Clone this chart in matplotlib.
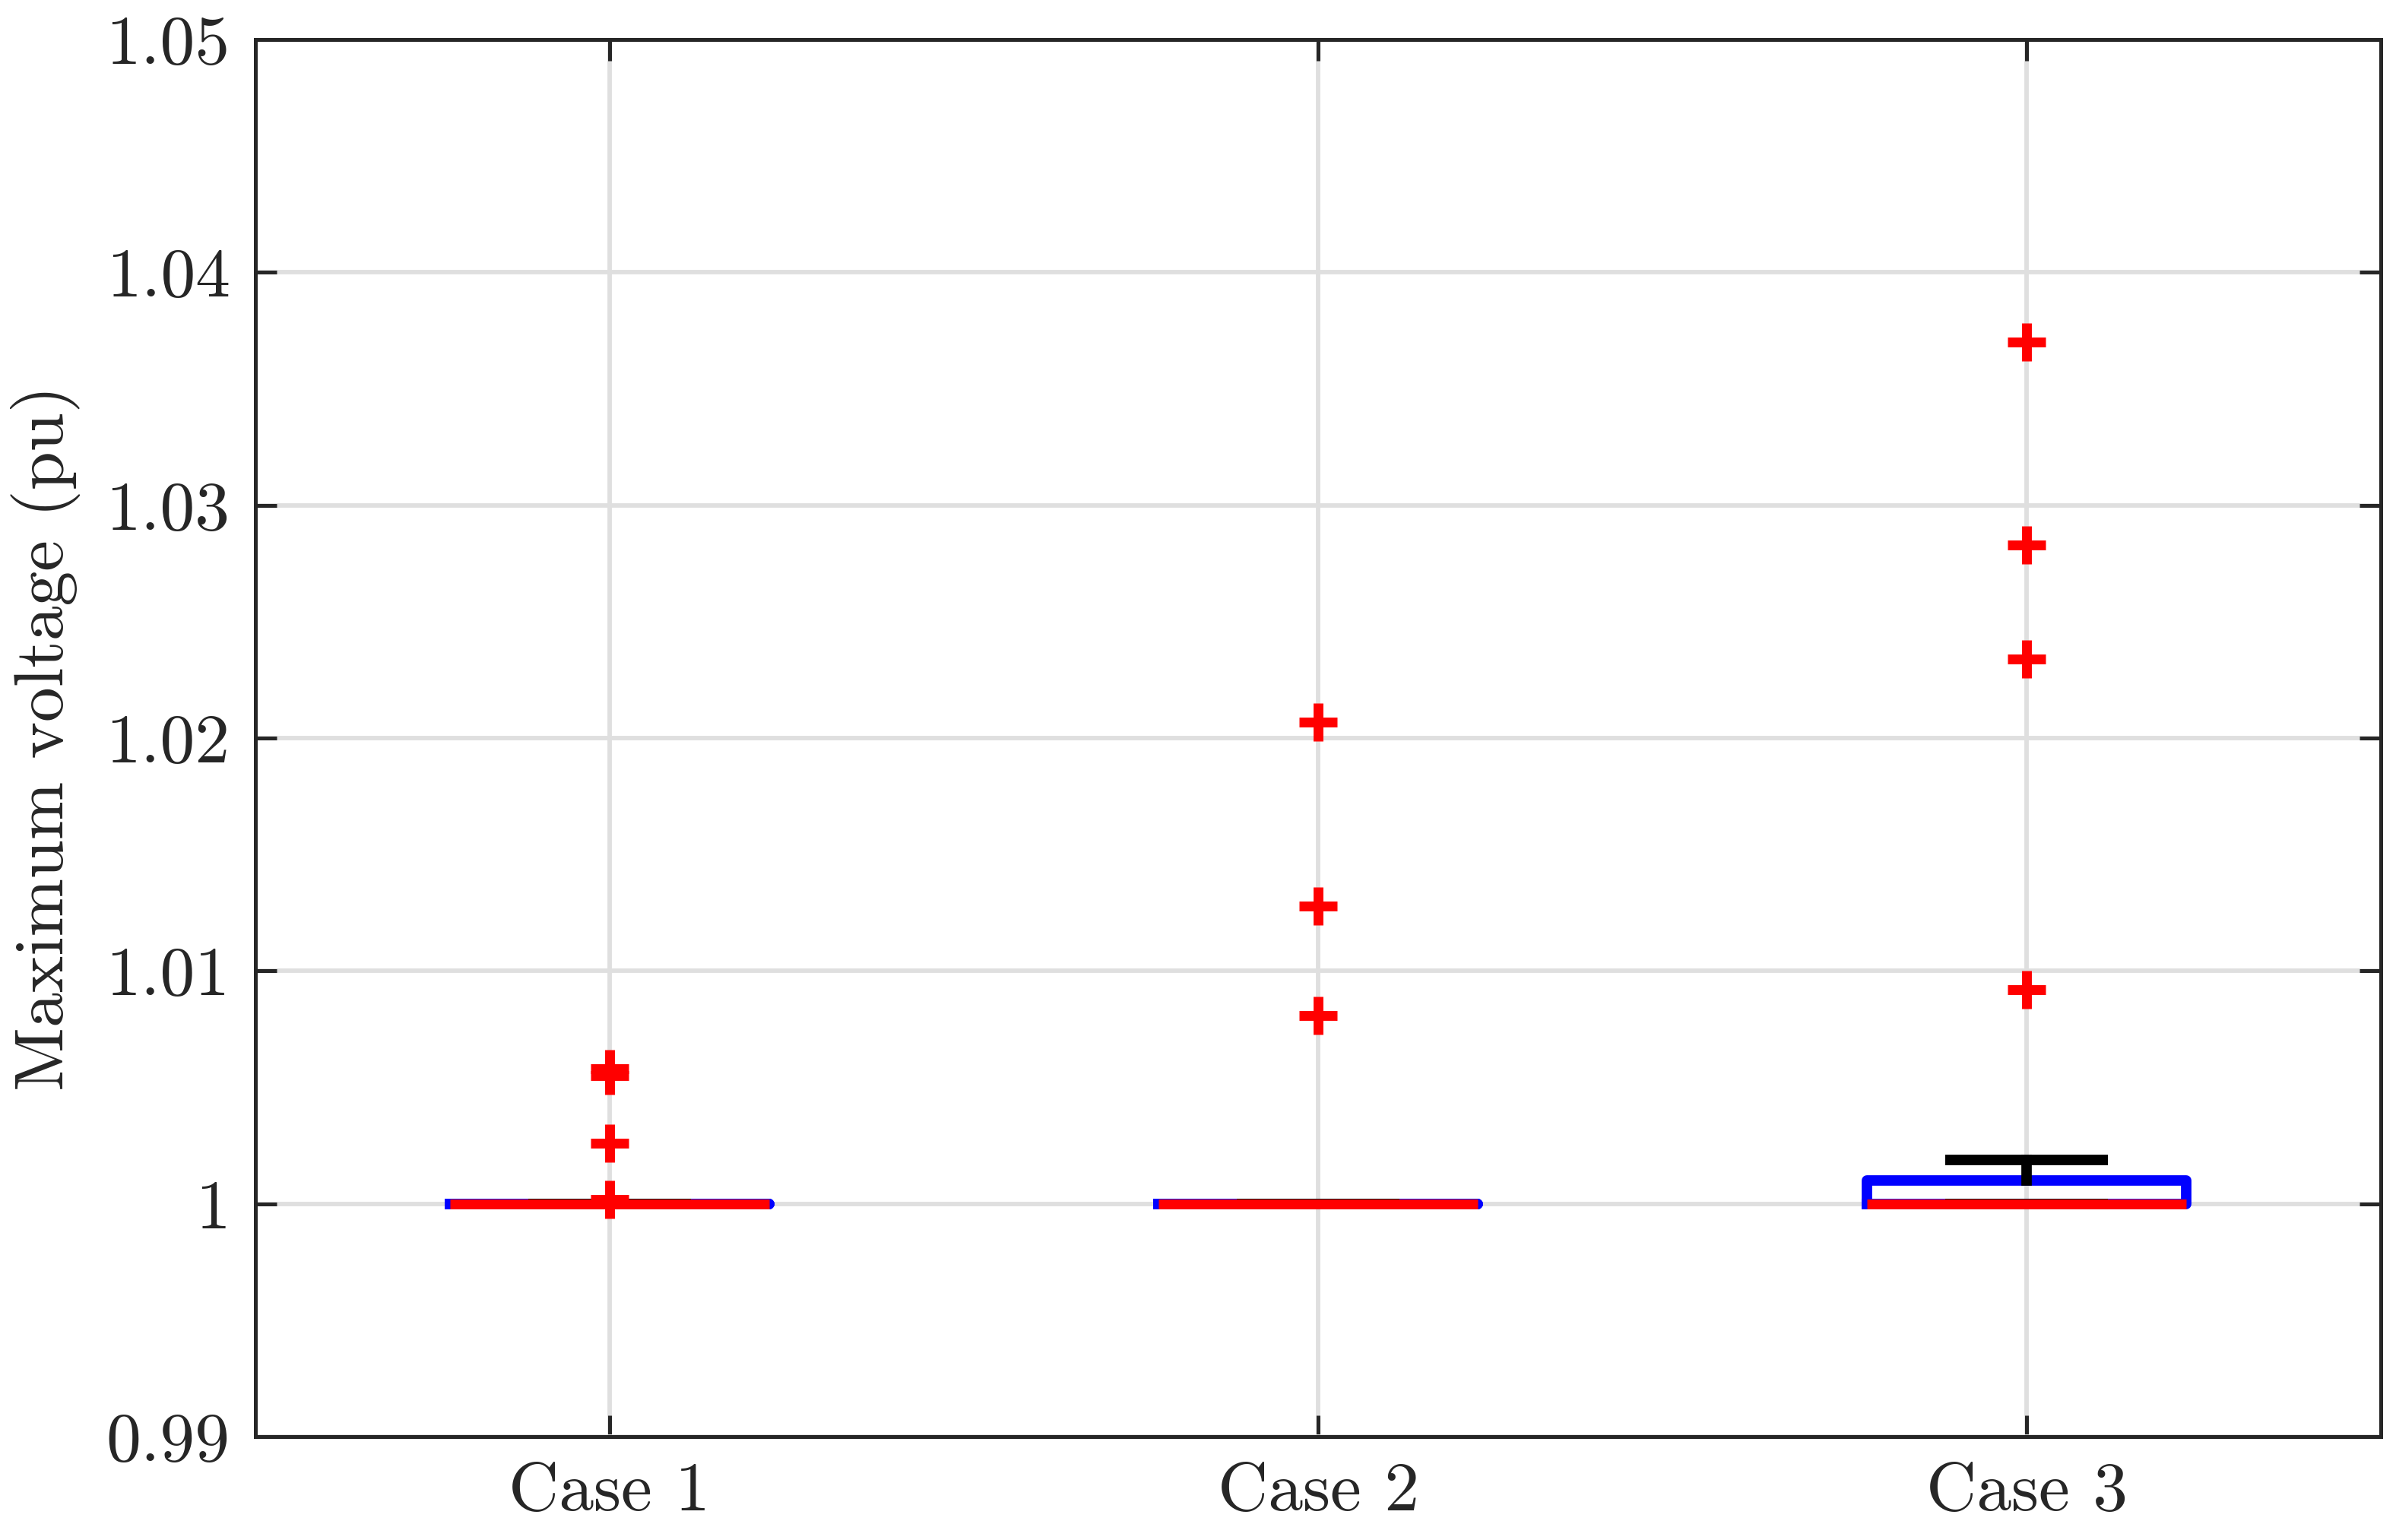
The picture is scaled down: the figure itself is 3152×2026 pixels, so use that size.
import matplotlib
matplotlib.use("Agg")
import matplotlib.pyplot as plt

# values (pu)
cases = ["Case 1", "Case 2", "Case 3"]
medians = [1.0, 1.0, 1.0]
q1 = [1.0, 1.0, 1.0]
q3 = [1.0, 1.0, 1.001]
whisk_lo = [1.0, 1.0, 1.0]
whisk_hi = [1.0, 1.0, 1.0019]
outliers = [
    [1.0058, 1.0055, 1.0026, 1.0002],
    [1.0207, 1.0128, 1.0081],
    [1.0370, 1.0283, 1.0234, 1.0092],
]
yticks = [0.99, 1.00, 1.01, 1.02, 1.03, 1.04, 1.05]
ytick_labels = ["0.99", "1", "1.01", "1.02", "1.03", "1.04", "1.05"]

plt.rcParams["font.family"] = "cmr10"
plt.rcParams["mathtext.fontset"] = "cm"
plt.rcParams["axes.formatter.use_mathtext"] = True

stats = []
for i in range(len(cases)):
    stats.append({
        "med": medians[i], "q1": q1[i], "q3": q3[i],
        "whislo": whisk_lo[i], "whishi": whisk_hi[i],
        "fliers": outliers[i], "label": cases[i],
    })

fig = plt.figure(figsize=(3152 / 300, 2026 / 300), dpi=300)
ax = fig.add_axes([0.1066, 0.0671, 0.8871, 0.9072])

ax.bxp(stats, positions=[1, 2, 3], widths=0.45, capwidths=0.23,
       boxprops=dict(color="blue", linewidth=3.3),
       medianprops=dict(color="red", linewidth=3.1, solid_capstyle="butt"),
       whiskerprops=dict(color="black", linewidth=3.3),
       capprops=dict(color="black", linewidth=3.3, solid_capstyle="butt"),
       flierprops=dict(marker="+", markeredgecolor="red", markersize=12,
                       markeredgewidth=3.1, linestyle="none"))

ax.set_xlim(0.5, 3.5)
ax.set_ylim(0.99, 1.05)
ax.set_yticks(yticks)
ax.set_yticklabels(ytick_labels)
ax.set_xticks([1, 2, 3])
ax.set_xticklabels(cases)
ax.set_ylabel("Maximum voltage (pu)", fontsize=22, color="#262626", labelpad=8)

ax.grid(True, color="#dfdfdf", linewidth=1.4)
ax.set_axisbelow(True)
ax.tick_params(direction="in", length=6.7, width=1.2, colors="#262626",
               labelsize=22, top=True, right=True, pad=8)
for s in ax.spines.values():
    s.set_color("#262626")
    s.set_linewidth(1.2)

fig.savefig("out.png", dpi=300)
